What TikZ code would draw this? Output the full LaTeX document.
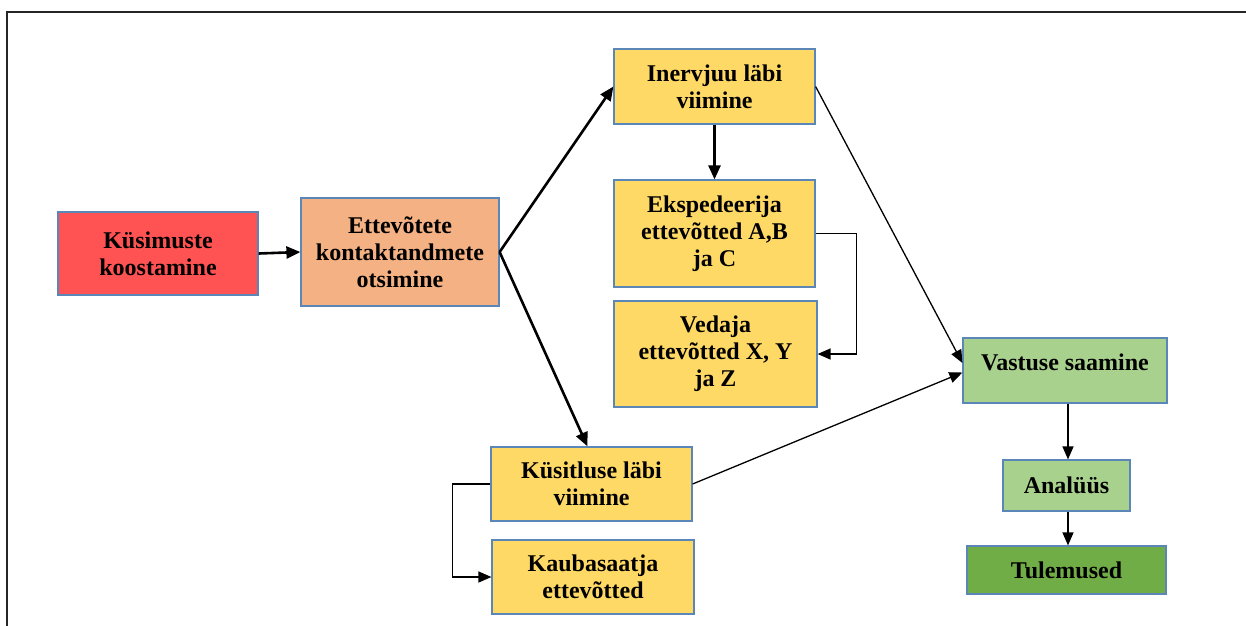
\documentclass[tikz,border=0pt]{standalone}
\usepackage{fontspec}
\setmainfont{Liberation Serif}
\usetikzlibrary{arrows.meta,calc}
\definecolor{cred}{HTML}{FF5252}
\definecolor{csalmon}{HTML}{F4B183}
\definecolor{cyellow}{HTML}{FFD966}
\definecolor{clgreen}{HTML}{A9D18E}
\definecolor{cgreen}{HTML}{70AD47}
\definecolor{cborder}{HTML}{5B87B8}
\tikzset{
  box/.style={draw=cborder, line width=1.2pt, inner sep=0pt, align=center,
    font=\fontsize{24}{27}\selectfont\bfseries},
  boxtext/.style={inner sep=0pt, align=center, font=\fontsize{24}{27}\selectfont\bfseries},
  thickarrow/.style={line width=2.6pt, -{Triangle[length=14pt,width=12pt]}},
  thinarrow/.style={line width=1.3pt, -{Triangle[length=13pt,width=11pt]}},
}
\begin{document}
\begin{tikzpicture}[x=1pt,y=-1pt]
\useasboundingbox[fill=white] (0,0) rectangle (1246,625);
\draw[line width=2.2pt, black!85] (7,626) -- (7,12) -- (1247,12);

\node[box, fill=cred, minimum width=200pt, minimum height=83pt] (k) at (158,253.5) {Küsimuste\\koostamine};
\node[box, fill=csalmon, minimum width=198pt, minimum height=108pt] (e) at (400,252) {Ettevõtete\\kontaktandmete\\otsimine};
\node[box, fill=cyellow, minimum width=201pt, minimum height=75pt] (i) at (714.5,86.5) {Inervjuu läbi\\viimine};
\node[box, fill=cyellow, minimum width=201pt, minimum height=107pt] (ek) at (714.5,233.5) {Ekspedeerija\\ettevõtted A,B\\ja C};
\node[box, fill=cyellow, minimum width=203pt, minimum height=106pt] (v) at (715.5,354) {Vedaja\\ettevõtted X, Y\\ja Z};
\node[box, fill=cyellow, minimum width=201pt, minimum height=74pt] (ks) at (591.5,484) {Küsitluse läbi\\viimine};
\node[box, fill=cyellow, minimum width=202pt, minimum height=74pt] (kb) at (593,577) {Kaubasaatja\\ettevõtted};
\node[box, fill=clgreen, minimum width=204pt, minimum height=65pt] (vs) at (1065,370.5) {};
\node[boxtext] (vst) at (1065,362) {Vastuse saamine};
\node[box, fill=clgreen, minimum width=127pt, minimum height=51pt] (an) at (1066.5,485.5) {Analüüs};
\node[box, fill=cgreen, minimum width=199pt, minimum height=48pt] (tu) at (1066.5,570) {Tulemused};

\draw[thickarrow] (k.east) -- (e.west);
\draw[thickarrow] (e.east) -- (i.west);
\draw[thickarrow] (e.east) -- ([xshift=-4pt]ks.north);
\draw[thickarrow] (i.south) -- (ek.north);
\draw[thinarrow] (ek.east) -- ++(41,0) |- (v.east);
\draw[thinarrow] (i.east) -- ([yshift=7.5pt]vs.west);
\draw[thinarrow] (ks.east) -- ([yshift=-2pt]vs.west);
\draw[thinarrow] (ks.west) -- ++(-38,0) |- (kb.west);
\draw[thinarrow] ([xshift=3pt]vs.south) -- ([xshift=1.5pt]an.north);
\draw[thinarrow] ([xshift=1.5pt]an.south) -- ([xshift=1.5pt]tu.north);
\end{tikzpicture}
\end{document}
